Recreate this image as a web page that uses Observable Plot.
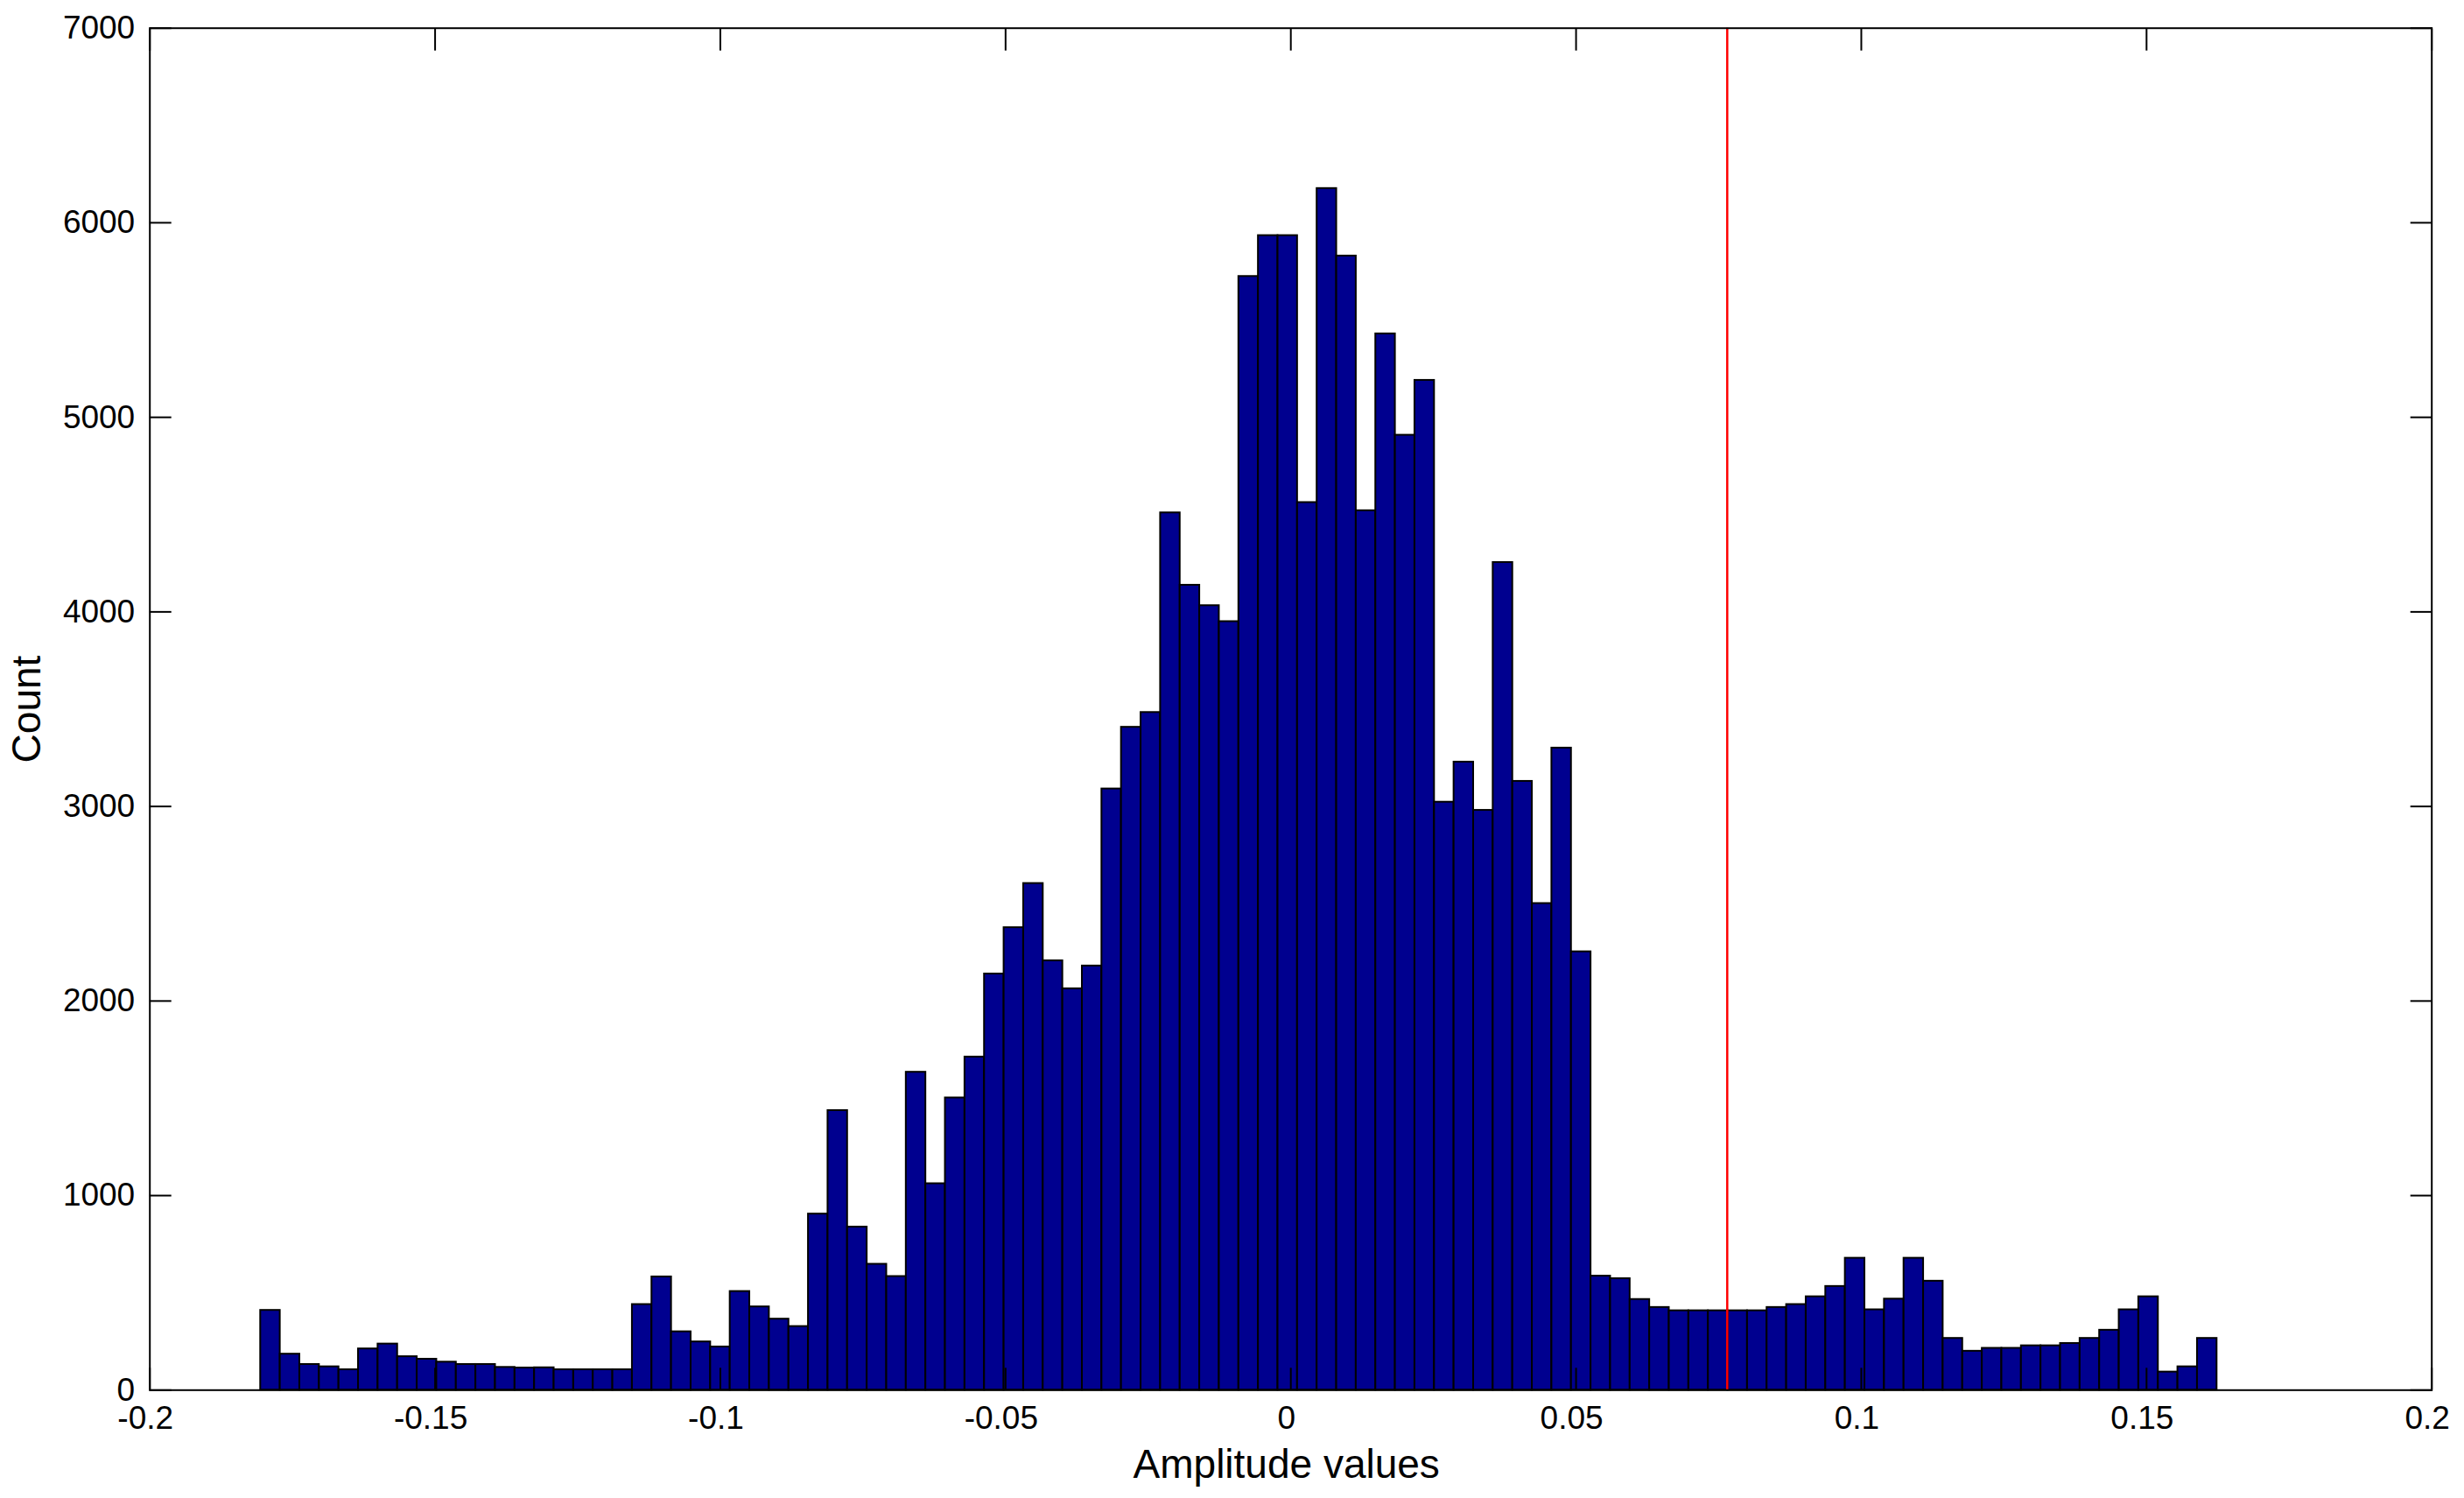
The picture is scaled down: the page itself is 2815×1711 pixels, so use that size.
<!DOCTYPE html>
<html>
<head>
<meta charset="utf-8">
<script src="https://cdn.jsdelivr.net/npm/d3@7"></script>
<script src="https://cdn.jsdelivr.net/npm/@observablehq/plot@0.6"></script>
<style>
html, body { margin: 0; padding: 0; background: #ffffff; }
#chart svg { display: block; }
</style>
</head>
<body>
<div id="chart"></div>
<script>
// Histogram counts (100 equal-width bins from binLow to binHigh)
const counts = [
  410, 185, 132, 120, 105, 212, 237, 172, 159, 144,
  132, 132, 117, 114, 115, 105, 105, 105, 105, 440,
  582, 300, 248, 222, 507, 428, 365, 327, 905, 1437,
  838, 647, 584, 1634, 1061, 1502, 1712, 2139, 2377, 2604,
  2207, 2063, 2180, 3090, 3407, 3483, 4509, 4137, 4032, 3950,
  5724, 5934, 5934, 4562, 6176, 5829, 4520, 5429, 4908, 5190,
  3022, 3228, 2980, 4254, 3129, 2501, 3300, 2253, 586, 573,
  466, 425, 408, 408, 408, 408, 408, 425, 440, 480,
  533, 678, 413, 468, 678, 560, 266, 200, 215, 215,
  228, 228, 240, 266, 308, 413, 480, 93, 120, 266
];
const binLow = -0.18058;
const binHigh = 0.16235;
const threshold = [0.0765];

const xTicks = [-0.2, -0.15, -0.1, -0.05, 0, 0.05, 0.1, 0.15, 0.2];
const xTickLabels = ["-0.2", "-0.15", "-0.1", "-0.05", "0", "0.05", "0.1", "0.15", "0.2"];
const yTicks = [0, 1000, 2000, 3000, 4000, 5000, 6000, 7000];
const yTickLabels = ["0", "1000", "2000", "3000", "4000", "5000", "6000", "7000"];
const xLabel = "Amplitude values";
const yLabel = "Count";

const nBins = counts.length;
const binW = (binHigh - binLow) / nBins;
const bins = counts.map((c, i) => ({ x1: binLow + i * binW, x2: binLow + (i + 1) * binW, count: c }));

const fmtX = d => xTickLabels[xTicks.indexOf(d)];
const fmtY = d => yTickLabels[yTicks.indexOf(d)];
const blank = () => "";

const chart = Plot.plot({
  width: 2815,
  height: 1711,
  marginLeft: 170.7,
  marginRight: 37.3,
  marginTop: 31.7,
  marginBottom: 123.7,
  style: { fontFamily: "'Liberation Sans', Arial, sans-serif", fontSize: "37px", background: "#ffffff", color: "#000000" },
  x: { domain: [-0.2, 0.2], label: null },
  y: { domain: [0, 7000], label: null },
  marks: [
    Plot.rectY(bins, { x1: "x1", x2: "x2", y: "count", fill: "#00008F", stroke: "#000000", strokeWidth: 2 }),
    Plot.ruleX(threshold, { stroke: "#FF0000", strokeWidth: 2.5 }),
    Plot.frame({ stroke: "#000000", strokeWidth: 2 }),
    // labels
    Plot.axisX({ anchor: "bottom", ticks: xTicks, tickSize: 0, tickPadding: 18, tickFormat: fmtX, label: null, dx: -5, fontSize: 37 }),
    Plot.axisY({ anchor: "left", ticks: yTicks, tickSize: 0, tickPadding: 17, tickFormat: fmtY, label: null, fontSize: 37 }),
    // inward ticks on all four sides
    Plot.axisX({ anchor: "bottom", ticks: xTicks, tickSize: -25, tickFormat: blank, label: null, strokeWidth: 2 }),
    Plot.axisX({ anchor: "top", ticks: xTicks, tickSize: -25, tickFormat: blank, label: null, strokeWidth: 2 }),
    Plot.axisY({ anchor: "left", ticks: yTicks, tickSize: -25, tickFormat: blank, label: null, strokeWidth: 2 }),
    Plot.axisY({ anchor: "right", ticks: yTicks, tickSize: -25, tickFormat: blank, label: null, strokeWidth: 2 }),
    // axis titles
    Plot.text([xLabel], { frameAnchor: "bottom", dy: 100, dx: -5, lineAnchor: "bottom", textAnchor: "middle", fontSize: 46 }),
    Plot.text([yLabel], { frameAnchor: "left", dx: -140, rotate: -90, lineAnchor: "middle", textAnchor: "middle", fontSize: 46 })
  ]
});

document.getElementById("chart").appendChild(chart);
</script>
</body>
</html>
